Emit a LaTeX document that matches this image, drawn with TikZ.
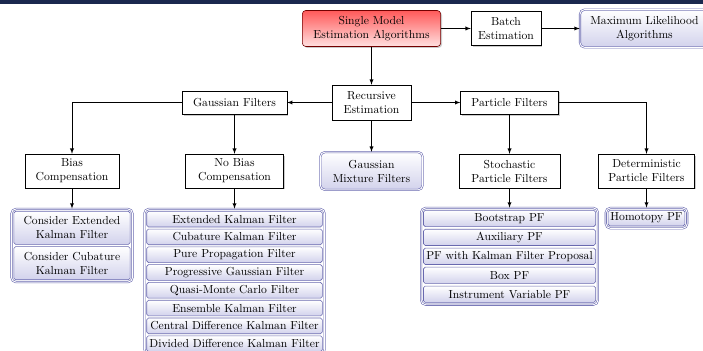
\documentclass[tikz,border=0pt]{standalone}
\usetikzlibrary{positioning,fit,backgrounds,shadows}
\definecolor{framecol}{RGB}{105,105,175}
\definecolor{lavender}{RGB}{210,210,236}
\definecolor{headerblue}{RGB}{26,40,78}
\tikzset{
  every node/.style={align=center},
  plainbox/.style={draw, fill=white, line width=0.5pt,
    drop shadow={opacity=0.4, shadow xshift=1.2pt, shadow yshift=-1.2pt}},
  rootbox/.style={draw=red!45!black, line width=0.5pt, rounded corners=3pt,
    top color=red!65, bottom color=red!12,
    drop shadow={opacity=0.4, shadow xshift=1.2pt, shadow yshift=-1.2pt}},
  leafbox/.style={draw=framecol, double=white, double distance=0.8pt, line width=0.5pt,
    rounded corners=4pt, top color=white, bottom color=lavender},
  itembox/.style={draw=framecol, line width=0.5pt, rounded corners=1.5pt,
    top color=white, bottom color=lavender, minimum height=13.5pt, inner sep=1pt},
  listframe/.style={draw=framecol, double=white, double distance=0.8pt, line width=0.5pt,
    rounded corners=4pt, fill=white, inner sep=1.8pt},
  link/.style={-latex, line width=0.6pt}
}
\begin{document}
\begin{tikzpicture}[x=0.86pt, y=0.86pt]
\useasboundingbox (0,0) rectangle (703,351);
\fill[headerblue] (0,347) rectangle (703,351);

% top row
\node[rootbox, minimum width=119pt, minimum height=31pt] (smea) at (371.5,322.5) {Single Model\\Estimation Algorithms};
\node[plainbox, minimum width=60pt, minimum height=29pt] (batch) at (506,322.5) {Batch\\Estimation};
\node[leafbox, minimum width=111pt, minimum height=32.5pt] (mla) at (644.5,322.5) {Maximum Likelihood\\Algorithms};

% second row
\node[plainbox, minimum width=68pt, minimum height=30pt] (rec) at (371.5,248.5) {Recursive\\Estimation};
\node[plainbox, minimum width=90pt, minimum height=20pt] (gf) at (234.5,248.5) {Gaussian Filters};
\node[plainbox, minimum width=84pt, minimum height=20pt] (pf) at (509.5,248.5) {Particle Filters};

% third row
\node[plainbox, minimum width=81pt, minimum height=29pt] (bias) at (72,180) {Bias\\Compensation};
\node[plainbox, minimum width=84pt, minimum height=29pt] (nobias) at (234.5,180) {No Bias\\Compensation};
\node[leafbox, minimum width=88pt, minimum height=32.5pt] (gmf) at (371.5,180) {Gaussian\\Mixture Filters};
\node[plainbox, minimum width=87pt, minimum height=29pt] (spf) at (509.5,180) {Stochastic\\Particle Filters};
\node[plainbox, minimum width=83pt, minimum height=29pt] (dpf) at (646.5,180) {Deterministic\\Particle Filters};

% lists
\begin{scope}[node distance=1.4pt, itembox/.append style={text width=98pt, minimum height=28.5pt}]
\node[itembox, anchor=north] (b1) at (72,140) {Consider Extended\\Kalman Filter};
\node[itembox, below=of b1] (b2) {Consider Cubature\\Kalman Filter};
\end{scope}

\begin{scope}[node distance=1.3pt, itembox/.append style={text width=149pt}]
\node[itembox, anchor=north] (nb1) at (234.5,140) {Extended Kalman Filter};
\node[itembox, below=of nb1] (nb2) {Cubature Kalman Filter};
\node[itembox, below=of nb2] (nb3) {Pure Propagation Filter};
\node[itembox, below=of nb3] (nb4) {Progressive Gaussian Filter};
\node[itembox, below=of nb4] (nb5) {Quasi-Monte Carlo Filter};
\node[itembox, below=of nb5] (nb6) {Ensemble Kalman Filter};
\node[itembox, below=of nb6] (nb7) {Central Difference Kalman Filter};
\node[itembox, below=of nb7] (nb8) {Divided Difference Kalman Filter};
\end{scope}

\begin{scope}[node distance=1.8pt, itembox/.append style={text width=146pt, minimum height=14pt}]
\node[itembox, anchor=north] (s1) at (509.5,141) {Bootstrap PF};
\node[itembox, below=of s1] (s2) {Auxiliary PF};
\node[itembox, below=of s2] (s3) {PF with Kalman Filter Proposal};
\node[itembox, below=of s3] (s4) {Box PF};
\node[itembox, below=of s4] (s5) {Instrument Variable PF};
\end{scope}

\node[itembox, text width=64pt, anchor=north] (h1) at (646.5,141) {Homotopy PF};

\begin{scope}[on background layer]
\node[listframe, fit=(b1)(b2)] (blist) {};
\node[listframe, fit=(nb1)(nb8)] (nblist) {};
\node[listframe, fit=(s1)(s5)] (slist) {};
\node[listframe, fit=(h1)] (hlist) {};
\end{scope}

% connectors
\draw[link] (smea) -- (batch);
\draw[link] (batch) -- (mla);
\draw[link] (smea) -- (rec);
\draw[link] (rec) -- (gf);
\draw[link] (rec) -- (pf);
\draw[link] (rec) -- (gmf);
\draw[link] (gf.west) -| (bias.north);
\draw[link] (gf) -- (nobias);
\draw[link] (pf) -- (spf);
\draw[link] (pf.east) -| (dpf.north);
\draw[link] (bias) -- (blist);
\draw[link] (nobias) -- (nblist);
\draw[link] (spf) -- (slist);
\draw[link] (dpf) -- (hlist);
\end{tikzpicture}
\end{document}
